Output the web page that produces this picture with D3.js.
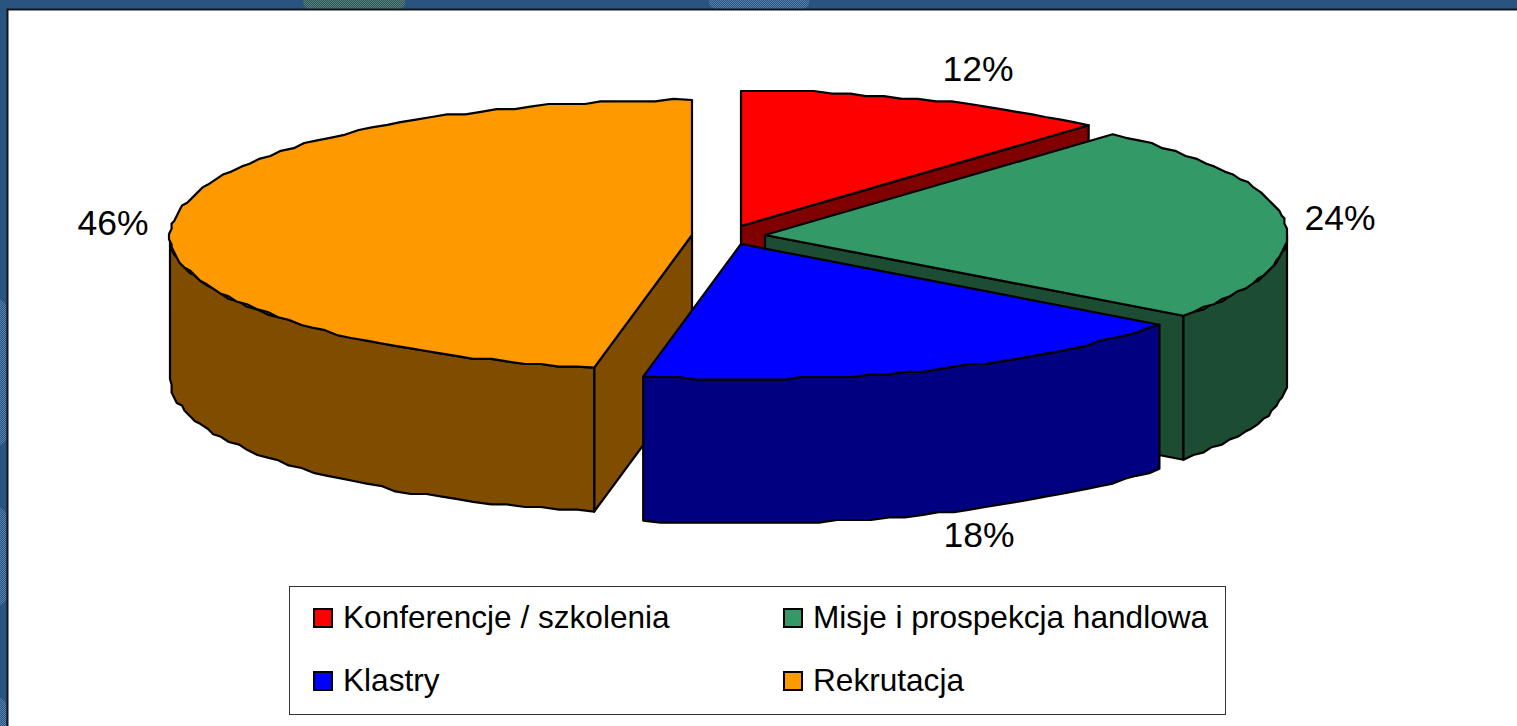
<!DOCTYPE html>
<html>
<head>
<meta charset="utf-8">
<script src="https://cdnjs.cloudflare.com/ajax/libs/d3/7.8.5/d3.min.js"></script>
<style>
  html, body { margin: 0; padding: 0; background: #fff; overflow: hidden; }
  text { font-family: "Liberation Sans", Arial, sans-serif; fill: #000; }
</style>
</head>
<body>
<div id="chart"></div>
<script>
// shares (the printed labels are rounded differently)
const categories = ['Konferencje / szkolenia', 'Misje i prospekcja handlowa', 'Klastry', 'Rekrutacja'];
const shares = [11.6, 23.6, 17.8, 47.0];
const pct_labels = ['12%', '24%', '18%', '46%'];

const top_colors = ['#ff0000', '#339966', '#0000ff', '#ff9900'];
const side_colors = ['#800000', '#1c4d33', '#000080', '#804d00'];

const width = 1517, height = 726;
const rx = 522, ry = 135, depth = 144;
const grid = 2.6; // outline of the source is snapped to a coarse grid

// exploded centres, per slice
const centres = [[741, 226], [765, 235], [741, 244], [692, 235]];
const label_pos = [[978, 81], [1340, 230], [979, 547], [113, 235]];

const svg = d3.select('#chart').append('svg')
  .attr('width', width)
  .attr('height', height)
  .style('display', 'block');

// dithered patches of the slide background
const defs = svg.append('defs');
function dither(id, color){
  const p = defs.append('pattern')
    .attr('id', id)
    .attr('width', 2).attr('height', 2)
    .attr('patternUnits', 'userSpaceOnUse');
  p.append('rect').attr('width', 1).attr('height', 1).attr('fill', color);
  p.append('rect').attr('x', 1).attr('y', 1).attr('width', 1).attr('height', 1).attr('fill', color);
}
dither('dither_green', '#5e8354');
dither('dither_blue', '#5a80ac');

// frame
svg.append('rect').attr('width', width).attr('height', height).attr('fill', '#2a5480');
const patches = [
  [303, -8, 102, 17, 'dither_green'],
  [709, -8, 100, 17, 'dither_blue'],
  [-8, 300, 14, 145, 'dither_blue'],
  [-8, 508, 14, 97, 'dither_blue'],
  [-8, 698, 14, 40, 'dither_blue']
];
svg.append('g').selectAll('rect')
  .data(patches)
  .join('rect')
  .attr('x', d => d[0]).attr('y', d => d[1])
  .attr('width', d => d[2]).attr('height', d => d[3])
  .attr('rx', 7)
  .attr('fill', d => `url(#${d[4]})`);
svg.append('rect').attr('x', 7.5).attr('y', 9.5).attr('width', width).attr('height', height)
  .attr('fill', '#fff').attr('stroke', '#10151c').attr('stroke-width', 2);

const pie = d3.pie().sort(null).value(d => d);
const arcs = pie(shares);

// point on the ellipse, angle clockwise from 12 o'clock
const pt = (c, a, dy = 0) => [c[0] + rx * Math.sin(a), c[1] - ry * Math.cos(a) + dy];

function arc_points(c, a0, a1, dy = 0){
  const n = Math.max(2, Math.ceil((a1 - a0) / (Math.PI / 90)));
  const pts = d3.range(n + 1).map(i => {
    const p = pt(c, a0 + (a1 - a0) * i / n, dy);
    if(i === 0 || i === n) return p;
    return [Math.round(p[0] / grid) * grid, Math.round(p[1] / grid) * grid];
  });
  return pts;
}

const line = d3.line();
const closed = pts => line(pts) + 'Z';

const pie_g = svg.append('g')
  .attr('stroke', '#000')
  .attr('stroke-width', 2.2)
  .attr('stroke-linejoin', 'round');

// back to front: orange, red, green, blue
[3, 0, 1, 2].forEach(i => {
  const c = centres[i];
  const a0 = arcs[i].startAngle, a1 = arcs[i].endAngle;
  const g = pie_g.append('g');

  // cut faces that turn towards the viewer
  const cuts = [];
  if(a1 < Math.PI) cuts.push(a1);
  if(a0 > Math.PI) cuts.push(a0);
  cuts.forEach(a => {
    g.append('path')
      .attr('d', closed([c, pt(c, a), pt(c, a, depth), [c[0], c[1] + depth]]))
      .attr('fill', side_colors[i]);
  });

  // rim, only the part that faces the viewer
  const rim0 = Math.max(a0, Math.PI / 2);
  const rim1 = Math.min(a1, 3 * Math.PI / 2);
  if(rim1 > rim0){
    const upper = arc_points(c, rim0, rim1);
    const lower = arc_points(c, rim0, rim1, depth).reverse();
    g.append('path')
      .attr('d', closed(upper.concat(lower)))
      .attr('fill', side_colors[i]);
  }

  // top face
  g.append('path')
    .attr('d', closed([c].concat(arc_points(c, a0, a1))))
    .attr('fill', top_colors[i]);
});

// percentage labels
svg.append('g').selectAll('text')
  .data(pct_labels)
  .join('text')
  .attr('x', (d, i) => label_pos[i][0])
  .attr('y', (d, i) => label_pos[i][1])
  .attr('text-anchor', 'middle')
  .attr('font-size', 35.5)
  .text(d => d);

// legend
const legend = svg.append('g');
legend.append('rect')
  .attr('x', 289.5).attr('y', 586.5)
  .attr('width', 936).attr('height', 128)
  .attr('fill', '#fff').attr('stroke', '#333').attr('stroke-width', 1);

const legend_item = legend.selectAll('g')
  .data(categories)
  .join('g')
  .attr('transform', (d, i) => `translate(${i % 2 ? 784 : 314},${i < 2 ? 609 : 672})`);

legend_item.append('rect')
  .attr('width', 18).attr('height', 18)
  .attr('fill', (d, i) => top_colors[i])
  .attr('stroke', '#000').attr('stroke-width', 2);

legend_item.append('text')
  .attr('x', 29)
  .attr('y', 19)
  .attr('font-size', 31.6)
  .text(d => d);
</script>
</body>
</html>
